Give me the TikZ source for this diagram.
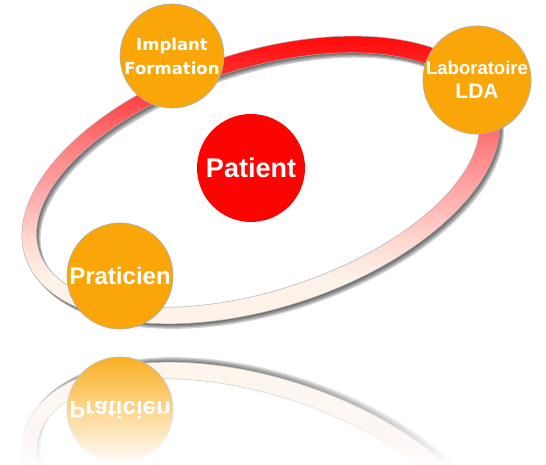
\documentclass[tikz,border=0pt]{standalone}
\usepackage{fontspec}
\setmainfont{Liberation Sans}
\newfontfamily\dvs{DejaVu Sans}
\usetikzlibrary{fadings}
\definecolor{orng}{RGB}{250,166,8}
\definecolor{patred}{RGB}{252,4,4}
\definecolor{ringred}{RGB}{255,10,10}
\definecolor{rpa}{RGB}{255,70,70}
\definecolor{rpb}{RGB}{255,130,130}
\definecolor{rpc}{RGB}{255,176,176}
\definecolor{rpd}{RGB}{255,214,206}
\definecolor{cream}{RGB}{253,242,232}
\definecolor{edge}{RGB}{175,175,175}
\pgfdeclareverticalshading{ringshade}{100bp}{color(0bp)=(cream); color(33bp)=(cream); color(40bp)=(rpd); color(46.5bp)=(rpc); color(55.5bp)=(rpb); color(64bp)=(rpa); color(75bp)=(ringred); color(100bp)=(ringred)}
\newcommand\ringpath[2]{%
 plot[domain=0:357,samples=120,smooth cycle,variable=\t] ({#1+261+248*cos(\t)*0.9511-128*sin(\t)*0.3090},{#2+285+248*cos(\t)*0.3090+128*sin(\t)*0.9511})
 plot[domain=0:357,samples=120,smooth cycle,variable=\t] ({#1+258+230*cos(\t)*0.9511-111*sin(\t)*0.3090},{#2+285+230*cos(\t)*0.3090+111*sin(\t)*0.9511})}
\tikzset{
 bub/.style={circle, inner sep=0pt, fill=orng, draw=edge, line width=0.7pt, text=white, align=center},
 ringshadow/.style={fill=black, opacity=0.19, even odd rule},
 ringbody/.style={even odd rule, shading=ringshade, draw=edge, line width=0.5pt}
}
\newcommand\ringscene[1]{%
 \foreach \i in {1,...,4} {\fill[ringshadow] \ringpath{\i}{-1.25*\i};}
 \path[ringbody, shading angle=#1] \ringpath{0}{0};
}
\begin{document}
\begin{tikzpicture}[x=1pt,y=1pt]
\useasboundingbox (0,0) rectangle (546,465);
% reflection
\begin{scope}
 \clip (0,0) rectangle (546,121);
 \begin{scope}[yshift=244pt, yscale=-1, transform shape]
  \ringscene{180}
  \node[bub, minimum size=106pt, font=\bfseries\fontsize{24}{28}\selectfont] (pratr) at (120,189) {Praticien};
 \end{scope}
 \fill[white, path fading=north] (0,0) rectangle (546,121);
\end{scope}
% main scene
\ringscene{0}
\node[bub, minimum size=104pt, font=\dvs\bfseries\fontsize{16.5}{24}\selectfont] (impl) at (172,409) {Implant\\Formation};
\node[bub, minimum size=106pt, font=\bfseries\fontsize{18.5}{22}\selectfont] (lab) at (477,385) {Laboratoire\\[2pt]{\fontsize{21}{24}\selectfont LDA}};
\node[bub, minimum size=106pt, font=\bfseries\fontsize{24}{28}\selectfont] (prat) at (120,189) {Praticien};
\node[circle, inner sep=0pt, fill=patred, minimum size=108pt, text=white, font=\bfseries\fontsize{27}{30}\selectfont] (pat) at (251,297) {Patient};
\end{tikzpicture}
\end{document}
